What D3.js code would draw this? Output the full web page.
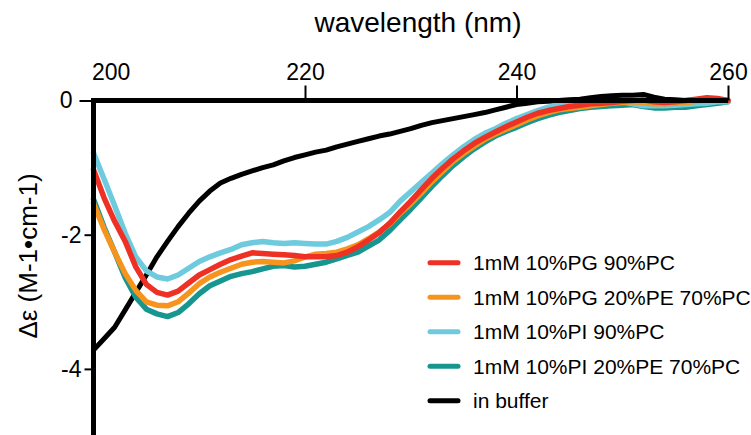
<!DOCTYPE html>
<html>
<head>
<meta charset="utf-8">
<script src="https://cdn.jsdelivr.net/npm/d3@7"></script>
<style>
  html, body { margin: 0; padding: 0; background: #fff; }
  svg { display: block; font-family: "Liberation Sans", Arial, Helvetica, sans-serif; }
</style>
</head>
<body>
<svg id="chart" width="751" height="435"></svg>
<script>
const wavelengths = d3.range(200, 261, 1);

const pg90pc = [-1.03,-1.45,-1.80,-2.10,-2.48,-2.74,-2.86,-2.90,-2.84,-2.72,
  -2.60,-2.52,-2.44,-2.37,-2.32,-2.27,-2.28,-2.29,-2.30,-2.31,
  -2.33,-2.33,-2.33,-2.31,-2.26,-2.18,-2.08,-1.97,-1.83,-1.66,
  -1.50,-1.33,-1.16,-1.01,-0.87,-0.75,-0.64,-0.55,-0.47,-0.39,
  -0.32,-0.25,-0.19,-0.15,-0.12,-0.09,-0.07,-0.05,-0.04,-0.03,
  -0.01,0.00,0.01,-0.02,-0.03,-0.02,0.00,0.02,0.04,0.03,0.00];

const pg20pe70pc = [-1.53,-1.92,-2.26,-2.58,-2.83,-3.00,-3.05,-3.06,-3.00,-2.87,
  -2.73,-2.63,-2.56,-2.50,-2.44,-2.41,-2.40,-2.41,-2.42,-2.39,
  -2.33,-2.29,-2.28,-2.26,-2.21,-2.15,-2.06,-1.96,-1.84,-1.68,
  -1.54,-1.38,-1.21,-1.06,-0.91,-0.79,-0.68,-0.58,-0.50,-0.43,
  -0.36,-0.29,-0.23,-0.18,-0.14,-0.12,-0.10,-0.08,-0.06,-0.04,
  -0.03,-0.02,-0.03,-0.05,-0.05,-0.04,-0.03,-0.01,0.01,0.01,0.00];

const pi90pc = [-0.78,-1.17,-1.57,-1.98,-2.33,-2.54,-2.63,-2.66,-2.60,-2.50,
  -2.40,-2.33,-2.27,-2.22,-2.15,-2.12,-2.10,-2.12,-2.13,-2.12,
  -2.13,-2.14,-2.14,-2.10,-2.04,-1.96,-1.88,-1.78,-1.67,-1.50,
  -1.36,-1.22,-1.08,-0.94,-0.81,-0.69,-0.58,-0.49,-0.42,-0.34,
  -0.27,-0.21,-0.15,-0.10,-0.07,-0.05,-0.03,-0.03,-0.02,-0.01,
  -0.02,-0.05,-0.08,-0.08,-0.08,-0.07,-0.06,-0.05,-0.04,-0.02,-0.02];

const pi20pe70pc = [-1.47,-1.89,-2.26,-2.64,-2.93,-3.11,-3.18,-3.22,-3.16,-3.03,
  -2.88,-2.76,-2.69,-2.62,-2.58,-2.55,-2.51,-2.47,-2.46,-2.48,
  -2.47,-2.44,-2.41,-2.36,-2.31,-2.26,-2.17,-2.08,-1.94,-1.78,
  -1.62,-1.45,-1.28,-1.12,-0.97,-0.84,-0.72,-0.62,-0.53,-0.46,
  -0.40,-0.33,-0.27,-0.22,-0.18,-0.15,-0.12,-0.10,-0.09,-0.08,
  -0.07,-0.06,-0.09,-0.11,-0.11,-0.10,-0.10,-0.08,-0.06,-0.04,-0.02];

const buffer = [-3.72,-3.55,-3.38,-3.12,-2.86,-2.60,-2.33,-2.10,-1.88,-1.68,
  -1.50,-1.35,-1.23,-1.16,-1.10,-1.05,-1.00,-0.96,-0.90,-0.85,
  -0.81,-0.77,-0.74,-0.69,-0.65,-0.61,-0.57,-0.53,-0.50,-0.46,
  -0.42,-0.37,-0.33,-0.30,-0.27,-0.24,-0.21,-0.18,-0.14,-0.10,
  -0.06,-0.04,-0.02,-0.01,0.00,0.01,0.02,0.04,0.06,0.07,
  0.08,0.08,0.09,0.05,0.02,0.01,0.00,0.01,0.01,0.01,0.00];

const seriesNames = ["1mM 10%PG 90%PC","1mM 10%PG 20%PE 70%PC","1mM 10%PI 90%PC","1mM 10%PI 20%PE 70%PC","in buffer"];
const seriesColors = ["#ee3124","#f7941d","#6dcbdd","#17968f","#000000"];
const seriesValues = [pg90pc, pg20pe70pc, pi90pc, pi20pe70pc, buffer];

const xTicks = [200, 220, 240, 260];
const yTicks = [0, -2, -4];

const svg = d3.select("#chart");
const x = d3.scaleLinear().domain([200, 260]).range([93.5, 728]);
const y = d3.scaleLinear().domain([0, -5]).range([100.5, 436]);

// data lines (drawing order: buffer, teal, cyan, orange, red)
const line = d3.line().x(d => x(d[0])).y(d => y(d[1]));
const order = [4, 3, 2, 1, 0];
order.forEach(i => {
  svg.append("path")
    .datum(wavelengths.map((w, k) => [w, seriesValues[i][k]]))
    .attr("d", line)
    .attr("fill", "none")
    .attr("stroke", seriesColors[i])
    .attr("stroke-width", i === 4 ? 5 : 5.5)
    .attr("stroke-linejoin", "round")
    .attr("stroke-linecap", "round");
});

// x axis on top at y=0
const xAxis = d3.axisTop(x).tickValues(xTicks).tickSize(15).tickSizeOuter(0).tickPadding(6)
  .tickFormat(d => String(d));
const gx = svg.append("g").attr("transform", `translate(0,${y(0)})`).call(xAxis);
gx.select(".domain").remove();
gx.selectAll(".tick line").attr("stroke", "#000").attr("stroke-width", 2);
gx.selectAll(".tick text").attr("font-size", 23).attr("fill", "#000")
  .attr("font-family", "'Liberation Sans', Arial, Helvetica, sans-serif");
gx.selectAll(".tick").filter(d => d === 200).select("line").remove();
gx.selectAll(".tick").filter(d => d === 200).select("text").attr("text-anchor", "start").attr("x", -2);

// y axis
const yAxis = d3.axisLeft(y).tickValues(yTicks).tickSize(9).tickSizeOuter(0).tickPadding(3)
  .tickFormat(d => String(d));
const gy = svg.append("g").attr("transform", `translate(${x(200)},0)`).call(yAxis);
gy.select(".domain").remove();
gy.selectAll(".tick line").attr("stroke", "#000").attr("stroke-width", 2);
gy.selectAll(".tick text").attr("font-size", 23).attr("fill", "#000")
  .attr("font-family", "'Liberation Sans', Arial, Helvetica, sans-serif");
gy.selectAll(".tick").filter(d => d === 0).select("line").attr("x2", -14);
gy.selectAll(".tick").filter(d => d === 0).select("text").attr("x", -21);

// thick axis lines
svg.append("line").attr("x1", x(200) - 2.5).attr("x2", x(260)).attr("y1", y(0)).attr("y2", y(0))
  .attr("stroke", "#000").attr("stroke-width", 5);
svg.append("line").attr("x1", x(200)).attr("x2", x(200)).attr("y1", y(0) - 2.5).attr("y2", 435)
  .attr("stroke", "#000").attr("stroke-width", 5);

// titles
svg.append("text").attr("x", 418).attr("y", 32).attr("text-anchor", "middle")
  .attr("font-size", 28).attr("fill", "#000").text("wavelength (nm)");
svg.append("text").attr("transform", "translate(37,256) rotate(-90)").attr("text-anchor", "middle")
  .attr("font-size", 26).attr("fill", "#000").text("Δε (M-1•cm-1)");

// legend
const legend = svg.append("g");
seriesNames.forEach((name, i) => {
  const cy = 262.7 + i * 34.5;
  legend.append("line").attr("x1", 430).attr("x2", 458).attr("y1", cy).attr("y2", cy)
    .attr("stroke", seriesColors[i]).attr("stroke-width", 5).attr("stroke-linecap", "round");
  legend.append("text").attr("x", 473).attr("y", cy).attr("dy", "0.36em")
    .attr("font-size", 21).attr("fill", "#000").text(name);
});
</script>
</body>
</html>
